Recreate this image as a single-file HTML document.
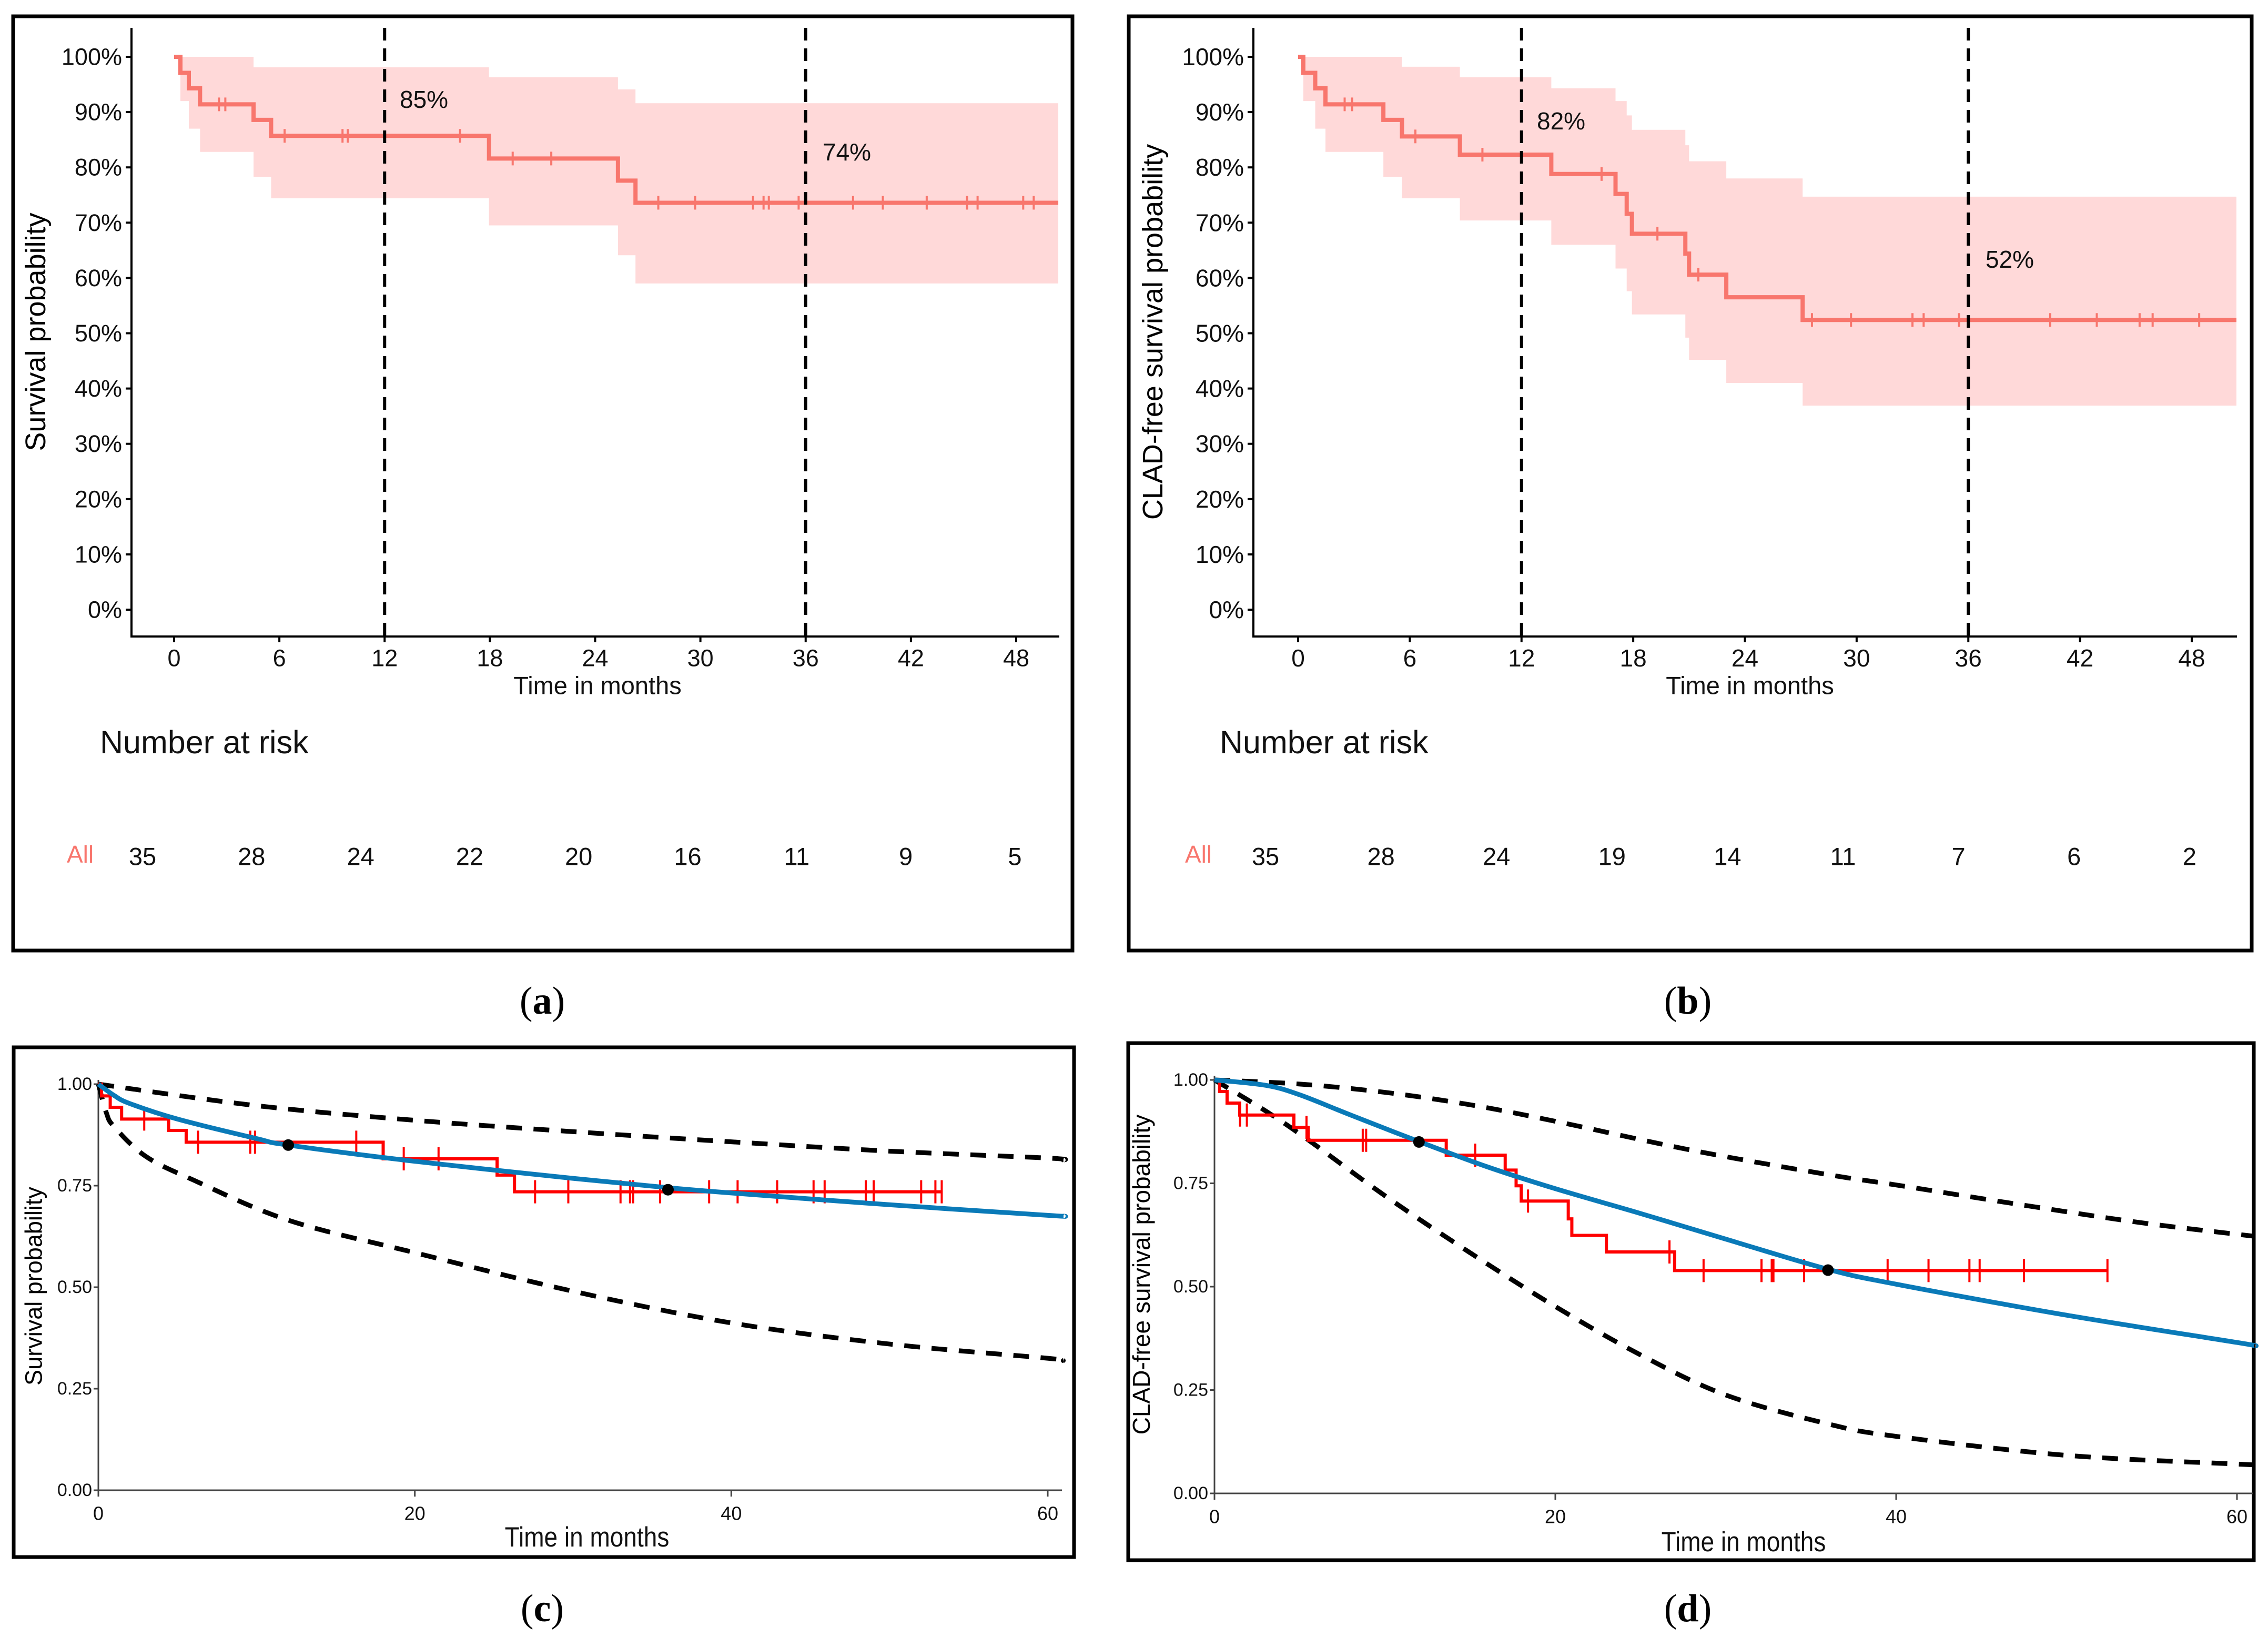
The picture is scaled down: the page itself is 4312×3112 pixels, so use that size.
<!DOCTYPE html>
<html><head><meta charset="utf-8"><style>
html,body{margin:0;padding:0;background:#fff;}
svg{display:block;font-family:"Liberation Sans",Arial,sans-serif;}
</style></head><body>
<svg id="fig" xmlns="http://www.w3.org/2000/svg" width="4312" height="3112" viewBox="0 0 4312 3112">
<rect x="0" y="0" width="4312" height="3112" fill="#fff"/>
</svg>
<script>
// ---------- data: panel a (overall survival KM) ----------
const aStepT = [0.36, 0.84, 1.48, 4.53, 5.53, 17.95, 25.3, 26.3];
const aStepS = [97.1, 94.3, 91.4, 88.6, 85.7, 81.6, 77.6, 73.6];
const aUpper = [100, 100, 100, 98.1, 98.1, 96.3, 94.1, 91.6];
const aLower = [92.0, 87.0, 82.8, 78.3, 74.4, 69.5, 64.1, 59.0];
const aCensor = [2.56, 2.92, 6.3, 9.6, 9.9, 16.3, 19.3, 21.5, 27.6, 29.7, 33.0, 33.6, 33.9, 35.6, 38.7, 40.4, 42.9, 45.2, 45.8, 48.4, 49.0];
const aRisk = [35, 28, 24, 22, 20, 16, 11, 9, 5];
// ---------- data: panel b (CLAD-free KM) ----------
const bStepT = [0.28, 0.92, 1.47, 4.58, 5.58, 8.69, 13.6, 17.05, 17.65, 17.93, 20.8, 21.0, 23.0, 27.1];
const bStepS = [97.1, 94.3, 91.4, 88.6, 85.6, 82.3, 78.8, 75.2, 71.6, 68.0, 64.4, 60.6, 56.5, 52.4];
const bUpper = [100, 100, 100, 100, 98.2, 96.3, 94.3, 92.0, 89.4, 86.8, 84.0, 81.1, 78.0, 74.7];
const bLower = [92.0, 87.0, 82.8, 78.3, 74.4, 70.4, 66.0, 61.7, 57.6, 53.4, 49.2, 45.2, 41.0, 36.9];
const bCensor = [2.5, 2.9, 6.3, 9.9, 16.3, 19.3, 21.5, 27.6, 29.7, 33.0, 33.6, 35.5, 40.4, 42.9, 45.2, 45.9, 48.4];
const bRisk = [35, 28, 24, 19, 14, 11, 7, 6, 2];
const kmTicks = [0, 6, 12, 18, 24, 30, 36, 42, 48];
const pctTicks = [0, 10, 20, 30, 40, 50, 60, 70, 80, 90, 100];
// ---------- data: panel c (parametric fit, survival) ----------
const cStepT = [0.2, 0.75, 1.47, 4.44, 5.55, 18.0, 25.2, 26.3];
const cStepS = [0.971, 0.943, 0.914, 0.886, 0.857, 0.816, 0.776, 0.735];
const cCensor = [2.9, 6.3, 9.6, 9.9, 16.3, 19.3, 21.5, 27.6, 29.7, 33.0, 33.6, 33.8, 35.5, 38.6, 40.4, 42.9, 45.2, 45.9, 48.5, 49.0, 52.0, 52.9, 53.3];
const cEnd = 53.3;
const cFitT = [0, 1, 2, 5, 10, 12, 20, 30, 36, 40, 50, 60, 61];
const cFitS = [1.0, 0.972, 0.952, 0.914, 0.866, 0.85, 0.81, 0.768, 0.745, 0.732, 0.703, 0.677, 0.675];
const cUpT = [0, 10, 20, 30, 40, 50, 60, 61];
const cUpS = [1.0, 0.947, 0.911, 0.883, 0.858, 0.835, 0.818, 0.813];
const cLoT = [0, 0.5, 1, 3, 6, 12, 20, 30, 40, 50, 60, 61];
const cLoS = [1.0, 0.93, 0.895, 0.822, 0.764, 0.665, 0.585, 0.49, 0.412, 0.36, 0.325, 0.319];
const cDotT = [12, 36];
const cDotS = [0.85, 0.74];
// ---------- data: panel d (parametric fit, CLAD-free) ----------
const dStepT = [0.3, 0.74, 1.48, 4.66, 5.5, 13.6, 17.06, 17.7, 18.0, 20.76, 20.97, 23.0, 27.0];
const dStepS = [0.972, 0.944, 0.915, 0.885, 0.854, 0.818, 0.782, 0.744, 0.707, 0.664, 0.624, 0.584, 0.539];
const dCensor = [1.5, 1.9, 5.4, 8.7, 8.9, 15.3, 18.4, 26.7, 28.7, 32.1, 32.7, 32.8, 34.6, 39.5, 41.9, 44.3, 44.9, 47.5, 52.4];
const dEnd = 52.4;
const dFitT = [0, 3, 5, 8, 12, 16, 20, 25, 30, 36, 40, 50, 60, 61];
const dFitS = [1.0, 0.987, 0.964, 0.915, 0.851, 0.79, 0.737, 0.677, 0.615, 0.542, 0.506, 0.431, 0.365, 0.357];
const dUpT = [0, 5, 10, 15, 20, 28, 36, 40, 47.5, 54.5, 61];
const dUpS = [1.0, 0.99, 0.97, 0.94, 0.9, 0.83, 0.771, 0.746, 0.697, 0.654, 0.622];
const dLoT = [0, 3, 5.5, 10, 15, 20, 25, 30, 36, 40, 50, 60, 61];
const dLoS = [1.0, 0.925, 0.855, 0.72, 0.582, 0.452, 0.335, 0.238, 0.168, 0.138, 0.092, 0.071, 0.069];
const dDotT = [12, 36];
const dDotS = [0.85, 0.54];
const fitTicksX = [0, 20, 40, 60];
const fitTicksY = [0, 0.25, 0.5, 0.75, 1.0];

const NS = 'http://www.w3.org/2000/svg';
const svg = document.getElementById('fig');
function el(tag, attrs, parent) {
  const e = document.createElementNS(NS, tag);
  for (const k in attrs) e.setAttribute(k, attrs[k]);
  (parent || svg).appendChild(e);
  return e;
}
function txt(str, attrs, parent) { const t = el('text', attrs, parent); t.textContent = str; return t; }
function survAt(t, T, S, s0) { let s = s0; for (let i = 0; i < T.length; i++) if (T[i] <= t) s = S[i]; return s; }
function kmPath(T, S, end, X, Y, s0) {
  let d = 'M' + X(0) + ',' + Y(s0);
  for (let i = 0; i < T.length; i++) { d += ' H' + X(T[i]) + ' V' + Y(S[i]); }
  return d + ' H' + X(end);
}
function bandPath(T, U, L, end, X, Y) {
  let top = '', bot = [];
  for (let i = 0; i < T.length; i++) {
    const t1 = (i + 1 < T.length) ? T[i + 1] : end;
    top += (i === 0 ? 'M' : ' L') + X(T[i]) + ',' + Y(U[i]) + ' L' + X(t1) + ',' + Y(U[i]);
    bot.unshift('L' + X(t1) + ',' + Y(L[i]) + ' L' + X(T[i]) + ',' + Y(L[i]));
  }
  return top + ' ' + bot.join(' ') + ' Z';
}
function linePath(T, S, X, Y) {
  const P = T.map((t, i) => [X(t), Y(S[i])]);
  let d = 'M' + P[0][0] + ',' + P[0][1];
  for (let i = 0; i < P.length - 1; i++) {
    const p0 = P[i - 1] || P[i], p1 = P[i], p2 = P[i + 1], p3 = P[i + 2] || P[i + 1];
    const c1x = p1[0] + (p2[0] - p0[0]) / 6, c1y = p1[1] + (p2[1] - p0[1]) / 6;
    const c2x = p2[0] - (p3[0] - p1[0]) / 6, c2y = p2[1] - (p3[1] - p1[1]) / 6;
    d += ' C' + c1x + ',' + c1y + ' ' + c2x + ',' + c2y + ' ' + p2[0] + ',' + p2[1];
  }
  return d;
}
function frame(x, y, w, h, name) {
  const r = el('rect', {x: x, y: y, width: w, height: h, fill: 'none', stroke: '#000', 'stroke-width': 7});
  
  
}
function caption(letter, cx, cy) {
  const t = el('text', {x: cx, y: cy, 'text-anchor': 'middle', 'dominant-baseline': 'central', 'font-family': '"Liberation Serif",serif', 'font-size': 74, fill: '#000'});
  
  
  const a = el('tspan', {}, t); a.textContent = '(';
  const b = el('tspan', {'font-weight': 'bold'}, t); b.textContent = letter;
  const c = el('tspan', {}, t); c.textContent = ')';
}

function kmPanel(p) {
  const g = el('g', {});
  
  
  const X = t => p.x0 + (t / 48) * (p.x48 - p.x0);
  const Y = s => p.y0 - (s / 100) * (p.y0 - p.y100);
  const band = el('path', {d: bandPath(p.T, p.U, p.L, p.end, X, Y), fill: '#ffd9d9', stroke: 'none'}, g);
  
  
  const ax = el('path', {d: 'M' + p.axL + ',' + p.axTop + ' V' + p.axY + ' H' + p.axR, fill: 'none', stroke: '#000', 'stroke-width': 4}, g);
  
  
  pctTicks.forEach(v => {
    el('line', {x1: p.axL - 11, x2: p.axL, y1: Y(v), y2: Y(v), stroke: '#000', 'stroke-width': 4}, g);
    const t = txt(v + '%', {x: p.axL - 18, y: Y(v), 'text-anchor': 'end', 'dominant-baseline': 'central', 'font-size': p.fs, fill: '#111'}, g);
    
    
  });
  kmTicks.forEach(v => {
    el('line', {x1: X(v), x2: X(v), y1: p.axY, y2: p.axY + 11, stroke: '#000', 'stroke-width': 4}, g);
    const t = txt(String(v), {x: X(v), y: p.axY + 41, 'text-anchor': 'middle', 'dominant-baseline': 'central', 'font-size': p.fs, fill: '#111'}, g);
    
    
  });
  const c = el('path', {d: kmPath(p.T, p.S, p.end, X, Y, 100), fill: 'none', stroke: '#f8766d', 'stroke-width': 8}, g);
  
  
  p.C.forEach(t => {
    const s = survAt(t, p.T, p.S, 100);
    const m = el('line', {x1: X(t), x2: X(t), y1: Y(s) - 13, y2: Y(s) + 13, stroke: '#f8766d', 'stroke-width': 4}, g);
    
    
  });
  [12, 36].forEach(v => {
    const l = el('line', {x1: X(v), x2: X(v), y1: p.axTop, y2: p.axY, stroke: '#000', 'stroke-width': 6, 'stroke-dasharray': '24,15'}, g);
    
    
  });
  p.ann.forEach(a => {
    const t = txt(a[0], {x: a[1], y: a[2], 'dominant-baseline': 'central', 'font-size': 46, fill: '#111'}, g);
    
    
  });
  const yl = txt(p.ylab, {x: 0, y: 0, transform: 'translate(' + p.ylx + ',' + p.yly + ') rotate(-90)', 'text-anchor': 'middle', 'dominant-baseline': 'central', 'font-size': 54, fill: '#000'}, g);
  
  
  const xl = txt('Time in months', {x: p.xlx, y: p.axY + 93, 'text-anchor': 'middle', 'dominant-baseline': 'central', 'font-size': 47, fill: '#111'}, g);
  
  
  const nr = txt('Number at risk', {x: p.nrx, y: 1411, 'dominant-baseline': 'central', 'font-size': 61, fill: '#111'}, g);
  
  
  const all = txt('All', {x: p.allx, y: 1624, 'dominant-baseline': 'central', 'font-size': 46, fill: '#f8766d'}, g);
  
  
  p.R.forEach((n, i) => {
    const t = txt(String(n), {x: p.r0 + i * p.rd, y: 1628, 'text-anchor': 'middle', 'dominant-baseline': 'central', 'font-size': 47, fill: '#111'}, g);
    
    
  });
}

function fitPanel(p) {
  const g = el('g', {});
  
  
  const X = t => p.x0 + (t / 60) * (p.x60 - p.x0);
  const Y = s => p.y0 - s * (p.y0 - p.y1);
  const ax = el('path', {d: 'M' + p.x0 + ',' + (p.y1 - 8) + ' V' + p.y0 + ' H' + p.axR, fill: 'none', stroke: '#444', 'stroke-width': 3}, g);
  
  
  fitTicksY.forEach(v => {
    el('line', {x1: p.x0 - 9, x2: p.x0, y1: Y(v), y2: Y(v), stroke: '#444', 'stroke-width': 3}, g);
    const t = txt(v.toFixed(2), {x: p.x0 - 12, y: Y(v), 'text-anchor': 'end', 'dominant-baseline': 'central', 'font-size': 34, fill: '#111', 'font-family': '"Liberation Sans Narrow","Liberation Sans",sans-serif'}, g);
    
    
  });
  fitTicksX.forEach(v => {
    el('line', {x1: X(v), x2: X(v), y1: p.y0, y2: p.y0 + 12, stroke: '#444', 'stroke-width': 3}, g);
    const t = txt(String(v), {x: X(v), y: p.y0 + 44, 'text-anchor': 'middle', 'dominant-baseline': 'central', 'font-size': 36, fill: '#111', 'font-family': '"Liberation Sans Narrow","Liberation Sans",sans-serif'}, g);
    
    
  });
  const up = el('path', {d: linePath(p.UT, p.US, X, Y), fill: 'none', stroke: '#000', 'stroke-width': 9, 'stroke-dasharray': '30,22'}, g);
  
  
  const lo = el('path', {d: linePath(p.LT, p.LS, X, Y), fill: 'none', stroke: '#000', 'stroke-width': 9, 'stroke-dasharray': '30,22'}, g);
  
  
  const km = el('path', {d: kmPath(p.T, p.S, p.end, X, Y, 1), fill: 'none', stroke: '#ff0000', 'stroke-width': 6}, g);
  
  
  p.C.forEach(t => {
    const s = survAt(t, p.T, p.S, 1);
    const m = el('line', {x1: X(t), x2: X(t), y1: Y(s) - 22, y2: Y(s) + 22, stroke: '#ff0000', 'stroke-width': 4}, g);
    
    
  });
  const fit = el('path', {d: linePath(p.FT, p.FS, X, Y), fill: 'none', stroke: '#0a7ab8', 'stroke-width': 9}, g);
  
  
  p.DT.forEach((t, i) => {
    const c = el('circle', {cx: X(t), cy: Y(p.DS[i]), r: 11, fill: '#000'}, g);
    
    
  });
  const yl = txt(p.ylab, {x: 0, y: 0, transform: 'translate(' + p.ylx + ',' + p.yly + ') rotate(-90)', 'text-anchor': 'middle', 'dominant-baseline': 'central', 'font-size': p.yfs, fill: '#000'}, g);
  
  
  const xl = txt('Time in months', {x: p.xlx, y: p.xly, 'text-anchor': 'middle', 'dominant-baseline': 'central', 'font-size': 46, fill: '#111', 'font-family': '"Liberation Sans Narrow","Liberation Sans",sans-serif', transform: 'translate(' + p.xlx + ',' + p.xly + ') scale(1,1.15) translate(' + (-p.xlx) + ',' + (-p.xly) + ')'}, g);
  
  
}

frame(25, 31, 2014, 1776, 'panel-a-frame');
frame(2146, 31, 2135, 1776, 'panel-b-frame');
frame(26, 1991, 2016, 969, 'panel-c-frame');
frame(2145, 1983, 2140, 983, 'panel-d-frame');

kmPanel({id: 'a', x0: 331, x48: 1932, y0: 1159, y100: 108, axL: 250, axR: 2014, axTop: 53, axY: 1210,
  T: aStepT, S: aStepS, U: aUpper, L: aLower, C: aCensor, end: 50.4, R: aRisk, fs: 45,
  ann: [['85%', 760, 189], ['74%', 1564, 289]], ylab: 'Survival probability', ylx: 68, yly: 631,
  xlx: 1136, nrx: 190, allx: 127, r0: 271, rd: 207.3});
kmPanel({id: 'b', x0: 2468, x48: 4167, y0: 1159, y100: 108, axL: 2383, axR: 4253, axTop: 53, axY: 1210,
  T: bStepT, S: bStepS, U: bUpper, L: bLower, C: bCensor, end: 50.4, R: bRisk, fs: 46,
  ann: [['82%', 2922, 230], ['52%', 3775, 493]], ylab: 'CLAD-free survival probability', ylx: 2192, yly: 631,
  xlx: 3327, nrx: 2319, allx: 2253, r0: 2406, rd: 219.6});
fitPanel({id: 'c', x0: 187, x60: 1992, y0: 2833, y1: 2061, axR: 2019,
  T: cStepT, S: cStepS, C: cCensor, end: cEnd, FT: cFitT, FS: cFitS, UT: cUpT, US: cUpS, LT: cLoT, LS: cLoS,
  DT: cDotT, DS: cDotS, ylab: 'Survival probability', ylx: 64, yly: 2445, yfs: 45, xlx: 1116, xly: 2922});
fitPanel({id: 'd', x0: 2309, x60: 4253, y0: 2839, y1: 2053, axR: 4283,
  T: dStepT, S: dStepS, C: dCensor, end: dEnd, FT: dFitT, FS: dFitS, UT: dUpT, US: dUpS, LT: dLoT, LS: dLoS,
  DT: dDotT, DS: dDotS, ylab: 'CLAD-free survival probability', ylx: 2170, yly: 2423, yfs: 46, xlx: 3315, xly: 2931});

caption('a', 1031, 1903);
caption('b', 3209, 1903);
caption('c', 1031, 3058);
caption('d', 3209, 3058);
</script>
</body></html>
